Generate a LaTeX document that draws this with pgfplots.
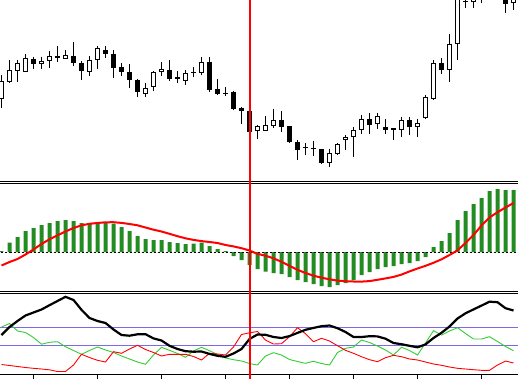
\documentclass[border=0pt]{standalone}
\usepackage{pgfplots}
\usepackage{pgfplotstable}
\pgfplotsset{compat=1.18}
\definecolor{macdgreen}{RGB}{34,139,34}
\definecolor{digreen}{RGB}{50,205,50}
\definecolor{levelblue}{RGB}{123,104,238}

% candles: k open high low close (price scale, plotted downward-increasing like screen rows)
\pgfplotstableread{
k o h l c
0 99 75 108 81
1 82 60 83 70
2 71 60 82 63
3 72 54 72 58
5 64 57 69 61
6 61 51 68 56
8 59 50 59 55
11 72 56 76 60
12 60 46 69 48
18 94 83 97 88
19 87 71 91 72
20 72.5 62 76 69.5
23 81 70 85 73
25 73 57 75 62
32 131 125 139 126
33 131 116 131 125
34 126 109 128 120
41 163 149 167 153
42 154 143 155 144
43 139.5 135 150 136.5
44 137 127 157 130
45 130 115 134 119
47 124 113 129 116
50 130 117 137 120
52 127 119 137 123
53 118 95 119 97
54 99 60 100 63
56 70 34 82 44
57 44 -20 60 -15
59 2.5 -6 8 -4
61 -10 -15 -5 -12
64 3 -8 10 -4
}\bull

\pgfplotstableread{
k o h l c
4 59 57 69 64
7 56 46 62 57.7
9 56 42 66 63
10 63 61 80 71
13 50 46 58 54
14 54 50 78 68
15 67 63 76 72
16 72 64 88 80
17 80 79 97 92
21 70 60 81 79
22 77 71 83 79
24 71.8 67 77 72.8
26 62 57 92 90
27 89 79 95 94
28 92.8 87 96 93.8
29 92 91 110 109
30 108 107 124 111
31 111 107 132 132
35 120 111 132 127
36 126 126 143 142
37 142 140 160 150
38 147.2 143 155 148.2
39 148.2 141 156 149.2
40 149 149 164 163
46 119 113 134 125
48 127 119 134 130
49 128 128 140 130
51 120 117 135 127
55 63 58 74 70
58 1.5 -5 8 2.5
60 -0.5 -5 3 0.5
62 -8 -12 0.5 -5
63 -5 -8 13 4
}\bear

% MACD histogram (m) and signal (s)
\pgfplotstableread{
k m s
0 1 -13.5
1 9.3 -10
2 15 -7
3 21 -2.5
4 24 2.5
5 27 8
6 29 12.7
7 31 16.7
8 32 20.5
9 31 24
10 29 26.7
11 28 28.2
12 30 29
13 29.7 29.7
14 28.3 29.8
15 25 29.1
16 21 28
17 16 26.7
18 13 24.5
19 12 22.3
20 12 20.5
21 10 18.2
22 9 15.8
23 8 13.7
24 8.3 12.1
25 9.3 10.9
26 6 10
27 3 9
28 1 7
29 -4 5.6
30 -8 3.8
31 -13 1.5
32 -17 -1.9
33 -19.7 -3.7
34 -21 -6.3
35 -22 -9.8
36 -25 -13.8
37 -28 -17.8
38 -30 -21
39 -32 -23.7
40 -34 -25.7
41 -35 -27.3
42 -33 -28.6
43 -31 -29.2
44 -28 -29.5
45 -23 -29.6
46 -20 -29.1
47 -17 -27.8
48 -15 -26.4
49 -14 -24.9
50 -12 -22.6
51 -11 -19.4
52 -9 -16.5
53 -5 -13.8
54 5 -10.8
55 11 -7.3
56 19 -3
57 32 1.7
58 41 9
59 48 17
60 54 26.5
61 61 34.5
62 63 39.8
63 62 44.5
64 62 49
}\macd

% ADX (a), +DI (p), -DI (m)
\pgfplotstableread{
k a p m
0 39 47 9.5
1 47 50.5 8.5
2 53 43 7.5
3 58.5 41.5 6.5
4 61.5 36.5 5.7
5 64.5 29.8 5
6 68.8 31.7 4.2
7 73 32.3 2.5
8 77.2 27.3 2.5
9 74 23.5 9
10 64.2 19.7 19.7
11 56 23.5 16.5
12 53 27 13.7
13 51 24 12
14 44.5 21.5 22.3
15 39 18 20.7
16 38.3 15 25
17 39.7 12 28.7
18 39.8 9.7 24.5
19 35.6 19 21.5
20 33.5 26.7 18
21 28.2 23.7 19.7
22 25 20.5 19.7
23 22.8 16.7 19.7
24 22.3 23 17.5
25 22.5 26.7 14
26 20.1 23.3 20.7
27 18.2 19.5 20
28 17.2 16 19
29 20.5 14.3 27
30 25 13 39.5
31 35 10.5 41.2
32 39.5 9 42.5
33 39.2 18 34
34 37 21.3 30
35 36 19 30.3
36 37.9 14.5 37.3
37 41.1 12.5 46.3
38 44.2 10.7 40.3
39 46.1 12.7 32.3
40 47.8 10.5 35.7
41 48.5 9 33
42 45.8 21.5 28.3
43 42 25.7 23.7
44 37 27 20.7
45 37 34 17.3
46 37.8 31.5 14.3
47 37.6 28 12.3
48 35.3 24 16.3
49 31 19 18.7
50 29.8 26.7 17.3
51 28.2 23.5 15
52 26.7 19 14
53 29.6 31 12
54 36 43.3 10
55 41.2 39 8.7
56 47.5 43 7
57 55.5 46.3 5.7
58 60.7 40.5 5
59 64.6 35 4.3
60 68.4 35 3.7
61 72.3 37.3 3.7
62 71.8 32.5 9
63 65.8 27.5 13
64 63.5 23.3 11
}\adx

\begin{document}
\begin{tikzpicture}
\pgfplotsset{panel/.style={scale only axis, width=518pt, xmin=-0.1875, xmax=64.5625,
  enlargelimits=false, anchor=north west}}

% price panel
\begin{axis}[panel, hide axis, at={(0pt,0pt)}, height=181.2pt, y dir=reverse, ymin=0, ymax=181.2]
\addplot[black, line width=1pt, quiver={u=0, v=\thisrow{l}-\thisrow{h}}] table[x=k, y=h] \bull;
\addplot[black, line width=1pt, quiver={u=0, v=\thisrow{l}-\thisrow{h}}] table[x=k, y=h] \bear;
\addplot[black, line width=5pt, quiver={u=0, v=\thisrow{c}-\thisrow{o}}] table[x=k, y=o] \bear;
\addplot[black, line width=5pt, quiver={u=0, v=\thisrow{c}-\thisrow{o}}] table[x=k, y=o] \bull;
\addplot[white, line width=3pt, quiver={u=0, v=\thisrow{c}-\thisrow{o}+2}] table[x=k, y expr=\thisrow{o}-1] \bull;
\end{axis}

% MACD panel
\begin{axis}[panel, hide axis, at={(0pt,-183.8pt)}, height=107.4pt, ymin=-39.2, ymax=68.2]
\addplot[ybar, bar width=4pt, fill=macdgreen, draw=none] table[x=k, y=m] \macd;
\addplot[black, line width=1pt, dash pattern=on 2pt off 2pt] coordinates {(-1,0) (66,0)};
\addplot[red, line width=2pt] table[x=k, y=s] \macd;
\end{axis}

% ADX panel
\begin{axis}[panel, at={(0pt,-293.6pt)}, height=80.7pt, ymin=-0.3, ymax=80.4,
  axis x line*=bottom, axis y line=none, xtick={4,12,...,60}, xticklabels={}, ytick=\empty,
  tick align=outside, major tick length=4.7pt, major tick style={black, line width=1pt},
  axis line style={black, line width=1pt}]
\addplot[levelblue, line width=1pt] coordinates {(-1,46.3) (66,46.3)};
\addplot[levelblue, line width=1pt] coordinates {(-1,28.3) (66,28.3)};
\addplot[digreen, line width=0.9pt] table[x=k, y=p] \adx;
\addplot[red, line width=0.9pt] table[x=k, y=m] \adx;
\addplot[black, line width=2.2pt] table[x=k, y=a] \adx;
\end{axis}

% separators and cursor line
\begin{axis}[panel, hide axis, at={(0pt,0pt)}, height=379pt, y dir=reverse, ymin=0, ymax=379]
\addplot[black, line width=1pt] coordinates {(-1,181.2) (66,181.2)};
\addplot[black, line width=1pt] coordinates {(-1,183.8) (66,183.8)};
\addplot[black, line width=1pt] coordinates {(-1,291.2) (66,291.2)};
\addplot[black, line width=1pt] coordinates {(-1,293.6) (66,293.6)};
\addplot[red, line width=2pt] coordinates {(31,0) (31,379)};
\end{axis}
\pgfresetboundingbox
\useasboundingbox (0pt,0pt) rectangle (518pt,-379pt);
\end{tikzpicture}
\end{document}
